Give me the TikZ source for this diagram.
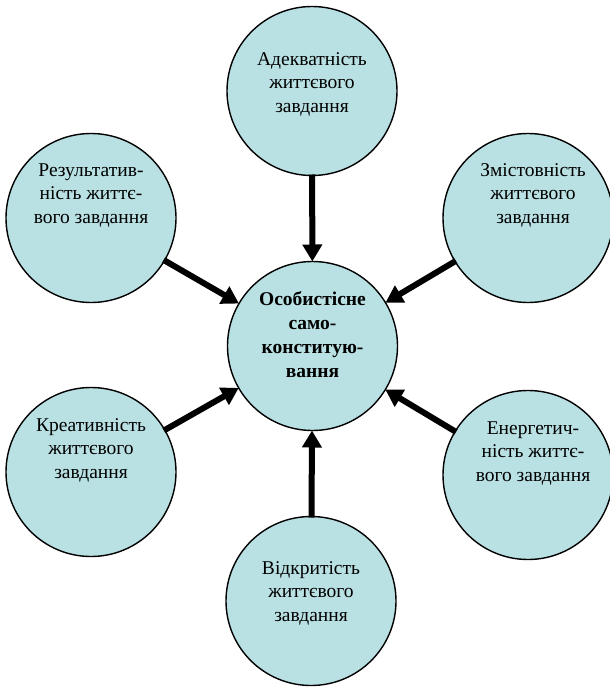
\documentclass[tikz,border=0pt]{standalone}
\usepackage{fontspec}
\setmainfont{Liberation Serif}
\usetikzlibrary{shapes.geometric,arrows.meta}
\definecolor{bubblefill}{RGB}{185,224,227}
\tikzset{
  bubble/.style={ellipse, draw=black, line width=1.4pt, fill=bubblefill,
    minimum width=170pt, minimum height=169pt, inner sep=0pt, outer sep=0pt},
  lbl/.style={align=center, inner sep=0pt, font=\fontsize{19.5}{23.5}\selectfont},
  clbl/.style={align=center, inner sep=0pt, font=\fontsize{19.5}{24}\selectfont\bfseries},
  arr/.style={line width=6pt, -{Triangle[length=17pt, width=19pt]}, shorten <=-1pt}
}
\begin{document}
\begin{tikzpicture}[x=1pt, y=-1pt]
\useasboundingbox (0,0) rectangle (610,688);
% bubbles
\node[bubble] (c)  at (312.5,346) {};
\node[bubble] (t)  at (312,91) {};
\node[bubble] (ul) at (91,218) {};
\node[bubble] (ur) at (528,218) {};
\node[bubble] (ll) at (91,472) {};
\node[bubble] (lr) at (528,475) {};
\node[bubble] (b)  at (311,601) {};
% labels
\node[clbl] (ct)  at (312.5,335) {Особистісне\\само-\\конститую-\\вання};
\node[lbl]  (tt)  at (312,84)  {Адекватність\\життєвого\\завдання};
\node[lbl]  (ult) at (91,195)  {Результатив-\\ність життє-\\вого завдання};
\node[lbl]  (urt) at (533,195) {Змістовність\\життєвого\\завдання};
\node[lbl]  (llt) at (91,450)  {Креативність\\життєвого\\завдання};
\node[lbl]  (lrt) at (533,453) {Енергетич-\\ність життє-\\вого завдання};
\node[lbl]  (bt)  at (311,593) {Відкритість\\життєвого\\завдання};
% arrows
\draw[arr] (t)  -- (c);
\draw[arr] (ul) -- (c);
\draw[arr] (ur) -- (c);
\draw[arr] (ll) -- (c);
\draw[arr] (lr) -- (c);
\draw[arr] (b)  -- (c);
\end{tikzpicture}
\end{document}
